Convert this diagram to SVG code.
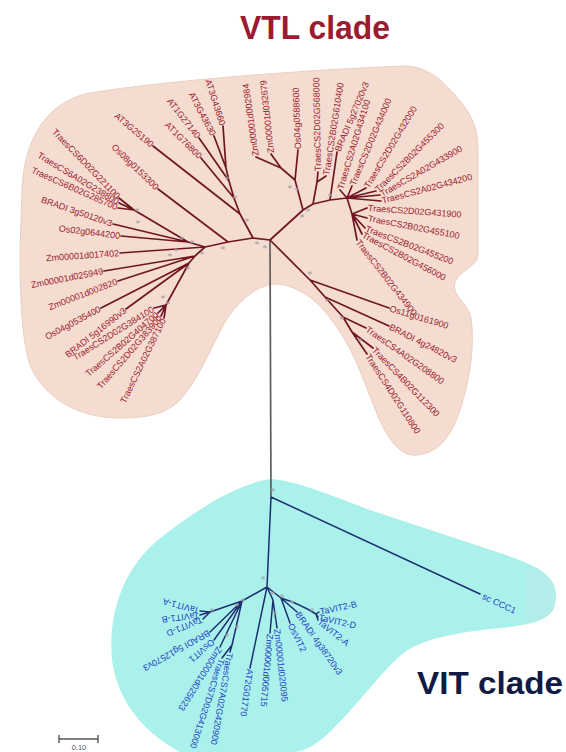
<svg xmlns="http://www.w3.org/2000/svg" width="566" height="752" viewBox="0 0 566 752">
<style>
.bg{fill:#fff}
.vtlblob{fill:#f4dcd0;stroke:#ead0c2;stroke-width:1}
.vitblob{fill:#aaf1eb}
.br{fill:none;stroke:#701622;stroke-width:1.7;stroke-linecap:round;stroke-linejoin:round}
.bb{fill:none;stroke:#1c2f70;stroke-width:1.5;stroke-linecap:round;stroke-linejoin:round}
.trunk{fill:none;stroke:#5e5e5e;stroke-width:1.7}
.lr{font-family:"Liberation Sans",Arial,sans-serif;font-size:9px;fill:#a0202e}
.lb{font-family:"Liberation Sans",Arial,sans-serif;font-size:9px;fill:#2344c4}
.bs{fill:#a3a3a3;opacity:.75}
.title{font-family:"Liberation Sans",Arial,sans-serif;font-weight:bold}
</style>
<rect class="bg" x="0" y="0" width="566" height="752"/>

<g id="clade-backgrounds">
<path class="vtlblob" d="M20,250 L22,190 C24,140 45,105 85,94 C150,82 300,70 405,66 C425,66 440,78 455,95 C470,112 478,125 478,150 L478,255 C478,266 460,270 455,282 C451,296 468,302 471,318 C475,345 470,380 460,410 C452,435 440,452 418,455 C400,457 390,440 382,425 C370,400 360,365 345,340 C330,315 315,298 298,290 C285,284 276,283 268,285 C250,290 236,305 225,322 C210,350 198,380 180,400 C165,415 145,418 120,418 C80,418 45,400 30,365 C22,340 20,300 20,250 Z"/>
<path class="vitblob" d="M272,479 C300,482 330,495 370,510 L500,553 C535,565 556,574 556,596 C556,618 540,624 500,628 C460,632 425,638 405,652 C385,667 362,700 332,730 C318,744 305,752 292,752 L180,752 C148,735 118,705 112,660 C108,615 122,570 158,540 C195,510 240,482 272,479 Z"/>
<path d="M527,568 C540,572 553,578 555,590 L555,604 C553,616 542,620 527,622 Z" fill="#b4ede9"/>
</g>

<g id="titles">
<text class="title" x="240" y="39" font-size="34" fill="#9b1b30" textLength="150" lengthAdjust="spacingAndGlyphs">VTL clade</text>
<text class="title" x="417" y="694" font-size="32" fill="#0f1a45" textLength="146" lengthAdjust="spacingAndGlyphs">VIT clade</text>
</g>

<g id="connectors">
<path class="trunk" d="M270,240 L271,497"/>
<path class="br" d="M270,240 L253,238 L240,214 L153,146 M240,214 L234,198 L201,158 M234,198 L229,181 L199,138 M229,181 L226,168 L214,136 M226,168 L223,126
M253,238 L228,242 L158,189 M228,242 L205,247
M205,247 L188,242 L113,224 M188,242 L121,236 M188,242 L134,210 L119,198 M134,210 L119,203 M134,210 L118,208
M205,247 L120,253
M205,247 L195,256 L104,271 M195,256 L118,281
M195,256 L189,263 L101,308 M189,263 L126,309 M189,263 L166,305 L154,308 M166,305 L158,313 M166,305 L161,316 M166,305 L164,318
M270,240 L303,210 L313,204 L330,200 L347,198
M303,210 L295,180 L298,150 M295,180 L281,168 L256,157 M281,168 L271,154
M313,204 L317,182 L318,172 M317,182 L326,176
M330,200 L337,152
M347,198 L340,190 M347,198 L352,186 M347,198 L366,188 M347,198 L376,191 M347,198 L380,195 M347,198 L381,201
M347,198 L352,214 L357,240 M352,214 L367,208 M352,214 L367,218 M352,214 L365,228 M352,214 L362,234
M270,240 L310,280 L389,308 M310,280 L325,297 L389,326 M325,297 L343,317 L366,328 M343,317 L352,332 L373,348 M352,332 L367,354"/>
<path class="bb" d="M271,497 L480,594 M271,497 L267,587
M267,587 L242,601 L210,612 L200,611 M210,612 L200,615 M210,612 L203,619
M242,601 L210,632 M242,601 L214,640 M242,601 L220,647 M242,601 L232,645 L230,652 M232,645 L222,658
M267,587 L250,668
M267,587 L273,600 L277,628 M273,600 L270,633
M267,587 L281,598 L290,623 M281,598 L297,612 M281,598 Q300,604 316,614 L319,612 M316,614 L318,617 M316,614 L318,620"/>
</g>

<g id="bootstrap-marks">
<ellipse class="bs" cx="227" cy="178" rx="2" ry="1.4"/>
<ellipse class="bs" cx="235" cy="197" rx="2" ry="1.4"/>
<ellipse class="bs" cx="247" cy="220" rx="2" ry="1.4"/>
<ellipse class="bs" cx="137" cy="210" rx="2" ry="1.4"/>
<ellipse class="bs" cx="138" cy="222" rx="2" ry="1.4"/>
<ellipse class="bs" cx="182" cy="238" rx="2" ry="1.4"/>
<ellipse class="bs" cx="192" cy="242" rx="2" ry="1.4"/>
<ellipse class="bs" cx="202" cy="253" rx="2" ry="1.4"/>
<ellipse class="bs" cx="223" cy="248" rx="2" ry="1.4"/>
<ellipse class="bs" cx="257" cy="243" rx="2" ry="1.4"/>
<ellipse class="bs" cx="265" cy="247" rx="2" ry="1.4"/>
<ellipse class="bs" cx="170" cy="255" rx="2" ry="1.4"/>
<ellipse class="bs" cx="176" cy="250" rx="2" ry="1.4"/>
<ellipse class="bs" cx="188" cy="268" rx="2" ry="1.4"/>
<ellipse class="bs" cx="163" cy="297" rx="2" ry="1.4"/>
<ellipse class="bs" cx="168" cy="303" rx="2" ry="1.4"/>
<ellipse class="bs" cx="290" cy="187" rx="2" ry="1.4"/>
<ellipse class="bs" cx="297" cy="189" rx="2" ry="1.4"/>
<ellipse class="bs" cx="302" cy="216" rx="2" ry="1.4"/>
<ellipse class="bs" cx="308" cy="210" rx="2" ry="1.4"/>
<ellipse class="bs" cx="330" cy="195" rx="2" ry="1.4"/>
<ellipse class="bs" cx="310" cy="273" rx="2" ry="1.4"/>
<ellipse class="bs" cx="327" cy="300" rx="2" ry="1.4"/>
<ellipse class="bs" cx="342" cy="318" rx="2" ry="1.4"/>
<ellipse class="bs" cx="360" cy="340" rx="2" ry="1.4"/>
<ellipse class="bs" cx="273" cy="490" rx="2" ry="1.4"/>
<ellipse class="bs" cx="263" cy="578" rx="2" ry="1.4"/>
<ellipse class="bs" cx="273" cy="593" rx="2" ry="1.4"/>
<ellipse class="bs" cx="282" cy="596" rx="2" ry="1.4"/>
<ellipse class="bs" cx="292" cy="602" rx="2" ry="1.4"/>
<ellipse class="bs" cx="312" cy="610" rx="2" ry="1.4"/>
<ellipse class="bs" cx="243" cy="600" rx="2" ry="1.4"/>
<ellipse class="bs" cx="237" cy="605" rx="2" ry="1.4"/>
<ellipse class="bs" cx="212" cy="610" rx="2" ry="1.4"/>
<ellipse class="bs" cx="237" cy="627" rx="2" ry="1.4"/>
<ellipse class="bs" cx="227" cy="635" rx="2" ry="1.4"/>
<ellipse class="bs" cx="275" cy="613" rx="2" ry="1.4"/>
</g>

<g id="vtl-leaves">
<g id="AT3G25190"><text class="lr" text-anchor="end" transform="translate(153,146) rotate(40)" x="-1" dy="3">AT3G25190</text></g>
<g id="Os08g0153300"><text class="lr" text-anchor="end" transform="translate(158,189) rotate(44)" x="-1" dy="3">Os08g0153300</text></g>
<g id="AT1G76800"><text class="lr" text-anchor="end" transform="translate(201,158) rotate(45)" x="-1" dy="3">AT1G76800</text></g>
<g id="AT1G27140"><text class="lr" text-anchor="end" transform="translate(199,138) rotate(52)" x="-1" dy="3">AT1G27140</text></g>
<g id="AT3G43630"><text class="lr" text-anchor="end" transform="translate(214,136) rotate(62)" x="-1" dy="3">AT3G43630</text></g>
<g id="AT3G43660"><text class="lr" text-anchor="end" transform="translate(223,126) rotate(72)" x="-1" dy="3">AT3G43660</text></g>
<g id="TraesCS6D02G221100"><text class="lr" text-anchor="end" transform="translate(119,198) rotate(46)" x="-1" dy="3">TraesCS6D02G221100</text></g>
<g id="TraesCS6A02G238800"><text class="lr" text-anchor="end" transform="translate(119,203) rotate(31)" x="-1" dy="3">TraesCS6A02G238800</text></g>
<g id="TraesCS6B02G285700"><text class="lr" text-anchor="end" transform="translate(118,208) rotate(24)" x="-1" dy="3">TraesCS6B02G285700</text></g>
<g id="BRADI3g50120v3"><text class="lr" text-anchor="end" transform="translate(113,224) rotate(19)" x="-1" dy="3">BRADI 3g50120v3</text></g>
<g id="Os02g0644200"><text class="lr" text-anchor="end" transform="translate(121,236) rotate(7)" x="-1" dy="3">Os02g0644200</text></g>
<g id="Zm00001d017402"><text class="lr" text-anchor="end" transform="translate(120,253) rotate(-4)" x="-1" dy="3">Zm00001d017402</text></g>
<g id="Zm00001d025949"><text class="lr" text-anchor="end" transform="translate(104,271) rotate(-11)" x="-1" dy="3">Zm00001d025949</text></g>
<g id="Zm00001d002820"><text class="lr" text-anchor="end" transform="translate(118,281) rotate(-21)" x="-1" dy="3">Zm00001d002820</text></g>
<g id="Os04g0535400"><text class="lr" text-anchor="end" transform="translate(101,308) rotate(-28)" x="-1" dy="3">Os04g0535400</text></g>
<g id="BRADI5g16990v3"><text class="lr" text-anchor="end" transform="translate(126,309) rotate(-38)" x="-1" dy="3">BRADI 5g16990v3</text></g>
<g id="TraesCS2D02G384100"><text class="lr" text-anchor="end" transform="translate(154,308) rotate(-32)" x="-1" dy="3">TraesCS2D02G384100</text></g>
<g id="TraesCS2B02G404700"><text class="lr" text-anchor="end" transform="translate(158,313) rotate(-41)" x="-1" dy="3">TraesCS2B02G404700</text></g>
<g id="TraesCS2D02G383900"><text class="lr" text-anchor="end" transform="translate(161,316) rotate(-49)" x="-1" dy="3">TraesCS2D02G383900</text></g>
<g id="TraesCS2A02G387100"><text class="lr" text-anchor="end" transform="translate(164,318) rotate(-64)" x="-1" dy="3">TraesCS2A02G387100</text></g>
<g id="Zm00001d002984"><text class="lr" transform="translate(256,157) rotate(-98)" x="1" dy="3">Zm00001d002984</text></g>
<g id="Zm00001d032679"><text class="lr" transform="translate(271,154) rotate(-96)" x="1" dy="3">Zm00001d032679</text></g>
<g id="Os04g0588600"><text class="lr" transform="translate(298,150) rotate(-92)" x="1" dy="3">Os04g0588600</text></g>
<g id="TraesCS2D02G568000"><text class="lr" transform="translate(318,172) rotate(-91)" x="1" dy="3">TraesCS2D02G568000</text></g>
<g id="TraesCS2B02G610400"><text class="lr" transform="translate(326,176) rotate(-81)" x="1" dy="3">TraesCS2B02G610400</text></g>
<g id="BRADI5g27020v3"><text class="lr" transform="translate(337,152) rotate(-67)" x="1" dy="3">BRADI 5g27020v3</text></g>
<g id="TraesCS2A02G434100"><text class="lr" transform="translate(340,190) rotate(-73)" x="1" dy="3">TraesCS2A02G434100</text></g>
<g id="TraesCS2D02G434000"><text class="lr" transform="translate(352,186) rotate(-67)" x="1" dy="3">TraesCS2D02G434000</text></g>
<g id="TraesCS2D02G432000"><text class="lr" transform="translate(366,188) rotate(-59)" x="1" dy="3">TraesCS2D02G432000</text></g>
<g id="TraesCS2B02G455300"><text class="lr" transform="translate(376,191) rotate(-45)" x="1" dy="3">TraesCS2B02G455300</text></g>
<g id="TraesCS2A02G433900"><text class="lr" transform="translate(380,195) rotate(-30)" x="1" dy="3">TraesCS2A02G433900</text></g>
<g id="TraesCS2A02G434200"><text class="lr" transform="translate(381,201) rotate(-15)" x="1" dy="3">TraesCS2A02G434200</text></g>
<g id="TraesCS2D02G431900"><text class="lr" transform="translate(367,208) rotate(4)" x="1" dy="3">TraesCS2D02G431900</text></g>
<g id="TraesCS2B02G455100"><text class="lr" transform="translate(367,218) rotate(11)" x="1" dy="3">TraesCS2B02G455100</text></g>
<g id="TraesCS2B02G455200"><text class="lr" transform="translate(365,228) rotate(21)" x="1" dy="3">TraesCS2B02G455200</text></g>
<g id="TraesCS2B02G456000"><text class="lr" transform="translate(362,234) rotate(28)" x="1" dy="3">TraesCS2B02G456000</text></g>
<g id="TraesCS2B02G434900"><text class="lr" transform="translate(357,240) rotate(52)" x="1" dy="3">TraesCS2B02G434900</text></g>
<g id="Os11g0161900"><text class="lr" transform="translate(389,308) rotate(17)" x="1" dy="3">Os11g0161900</text></g>
<g id="BRADI4g24820v3"><text class="lr" transform="translate(389,326) rotate(27)" x="1" dy="3">BRADI 4g24820v3</text></g>
<g id="TraesCS4A02G208800"><text class="lr" transform="translate(366,328) rotate(35)" x="1" dy="3">TraesCS4A02G208800</text></g>
<g id="TraesCS4B02G112300"><text class="lr" transform="translate(373,348) rotate(46)" x="1" dy="3">TraesCS4B02G112300</text></g>
<g id="TraesCS4D02G110800"><text class="lr" transform="translate(367,354) rotate(57)" x="1" dy="3">TraesCS4D02G110800</text></g>
</g>

<g id="vit-leaves">
<g id="scCCC1"><text class="lb" transform="translate(481,595) rotate(25)" x="2" dy="3">sc CCC1</text></g>
<g id="TaVIT2-B"><text class="lb" transform="translate(319,612) rotate(-12)" x="1" dy="3">TaVIT2-B</text></g>
<g id="TaVIT2-D"><text class="lb" transform="translate(318,617) rotate(13)" x="1" dy="3">TaVIT2-D</text></g>
<g id="TaVIT2-A"><text class="lb" transform="translate(318,620) rotate(39)" x="1" dy="3">TaVIT2-A</text></g>
<g id="BRADI4g38720v3"><text class="lb" transform="translate(297,612) rotate(55)" x="1" dy="3">BRADI 4g38720v3</text></g>
<g id="OsVIT2"><text class="lb" transform="translate(290,623) rotate(64)" x="1" dy="3">OsVIT2</text></g>
<g id="Zm00001d020095"><text class="lb" transform="translate(277,628) rotate(84)" x="1" dy="3">Zm00001d020095</text></g>
<g id="Zm00001d005715"><text class="lb" transform="translate(270,633) rotate(95)" x="1" dy="3">Zm00001d005715</text></g>
<g id="AT2G01770"><text class="lb" transform="translate(250,668) rotate(98)" x="1" dy="3">AT2G01770</text></g>
<g id="TraesCS7A02G420900"><text class="lb" transform="translate(230,652) rotate(100)" x="1" dy="3">TraesCS7A02G420900</text></g>
<g id="TraesCS7D02G413000"><text class="lb" transform="translate(222,658) rotate(108)" x="1" dy="3">TraesCS7D02G413000</text></g>
<g id="Zm00001d025623"><text class="lb" transform="translate(220,647) rotate(122)" x="1" dy="3">Zm00001d025623</text></g>
<g id="OsVIT1"><text class="lb" transform="translate(214,640) rotate(139)" x="1" dy="3">OsVIT1</text></g>
<g id="BRADI5g12570v3"><text class="lb" transform="translate(210,632) rotate(151)" x="1" dy="3">BRADI 5g12570v3</text></g>
<g id="TaVIT1-D"><text class="lb" transform="translate(203,619) rotate(158)" x="1" dy="3">TaVIT1-D</text></g>
<g id="TaVIT1-B"><text class="lb" transform="translate(200,615) rotate(173)" x="1" dy="3">TaVIT1-B</text></g>
<g id="TaVIT1-A"><text class="lb" transform="translate(200,611) rotate(195)" x="1" dy="3">TaVIT1-A</text></g>
</g>

<g id="scale-bar">
<path d="M59,739 L98,739 M59,735 L59,743 M98,735 L98,743" fill="none" stroke="#555" stroke-width="1.4"/>
<text x="79" y="750" text-anchor="middle" font-family="'Liberation Sans',Arial,sans-serif" font-size="7.5" fill="#555">0.10</text>
</g>
</svg>
